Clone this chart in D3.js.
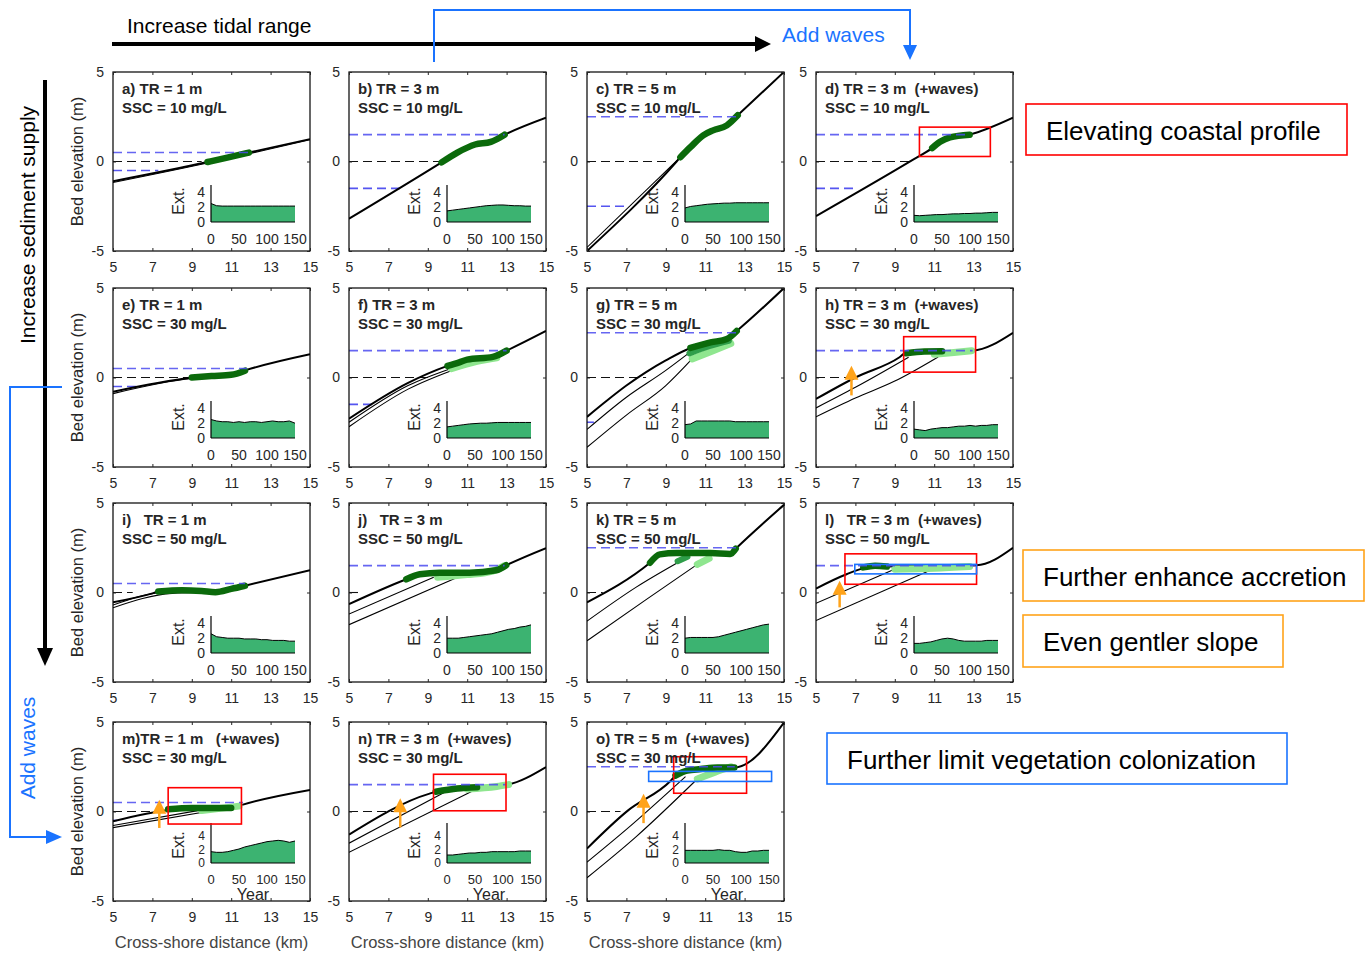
<!DOCTYPE html>
<html><head><meta charset="utf-8">
<script src="https://cdn.jsdelivr.net/npm/d3@7"></script>
<style>
body{margin:0;background:#fff;}
svg{font-family:"Liberation Sans",Arial,sans-serif;}
text{white-space:pre;}
</style></head><body>
<svg id="c" width="1365" height="953"></svg>
<script>
// ---------------- DATA ----------------
const panelLabels = ["a","b","c","d","e","f","g","h","i","j","k","l","m","n","o"];
const tidalRange  = [1,3,5,3, 1,3,5,3, 1,3,5,3, 1,3,5];
const sscValues   = [10,10,10,10, 30,30,30,30, 50,50,50,50, 30,30,30];
const withWaves   = [0,0,0,1, 0,0,0,1, 0,0,0,1, 1,1,1];
const titleGap    = [" "," "," "," ", " "," "," "," ", "   ","   "," ","   ", ""," "," "];
const xTicks = [5,7,9,11,13,15];
const yTicks = [-5,0,5];
const insetYears = [0,10,20,30,40,50,60,70,80,90,100,110,120,130,140,150];
const insetXTicks = [0,50,100,150];
const insetYTicks = [0,2,4];

// vegetation extent time series (inset), one per panel
const extent = [
 [2.5,2.2,2.15,2.15,2.15,2.15,2.15,2.15,2.15,2.15,2.15,2.15,2.15,2.15,2.15,2.15],
 [1.5,1.6,1.7,1.8,1.9,2.0,2.1,2.2,2.25,2.3,2.3,2.25,2.2,2.2,2.15,2.15],
 [1.9,2.1,2.2,2.3,2.4,2.45,2.5,2.55,2.55,2.6,2.6,2.6,2.6,2.6,2.6,2.6],
 [0.9,0.85,0.9,0.95,1.0,1.0,1.05,1.1,1.1,1.15,1.15,1.2,1.2,1.25,1.3,1.3],
 [2.5,2.3,2.2,2.2,2.1,2.2,2.1,2.2,2.2,2.1,2.2,2.3,2.2,2.2,2.3,2.0],
 [1.5,1.6,1.7,1.8,1.9,1.95,2.0,2.0,2.05,2.1,2.1,2.1,2.1,2.1,2.1,2.1],
 [1.8,1.9,2.3,2.3,2.3,2.3,2.3,2.3,2.3,2.2,2.2,2.2,2.2,2.2,2.2,2.2],
 [1.2,1.1,1.0,1.2,1.3,1.4,1.4,1.5,1.6,1.6,1.7,1.6,1.7,1.7,1.8,1.8],
 [2.6,2.2,2.1,2.0,2.0,2.0,1.9,1.9,1.9,1.8,1.8,1.7,1.7,1.7,1.6,1.6],
 [2.0,2.0,2.0,2.1,2.2,2.3,2.4,2.5,2.6,2.8,3.0,3.2,3.3,3.5,3.6,3.8],
 [2.0,2.1,2.1,2.1,2.1,2.1,2.2,2.4,2.6,2.8,3.0,3.2,3.4,3.6,3.8,3.9],
 [1.3,1.3,1.4,1.5,1.7,1.9,2.0,1.9,1.7,1.6,1.6,1.6,1.6,1.7,1.7,1.7],
 [1.7,1.6,1.6,1.7,1.9,2.1,2.4,2.6,2.8,3.0,3.2,3.3,3.4,3.3,3.1,3.3],
 [1.2,1.2,1.3,1.4,1.5,1.5,1.6,1.6,1.7,1.7,1.7,1.7,1.7,1.8,1.8,1.8],
 [1.9,1.9,1.9,1.9,1.9,1.9,2.0,1.9,1.9,1.7,1.6,1.6,1.8,1.8,1.9,1.9]
];

// bed profiles [km, m]; first = final (thick), others = earlier (thin)
const profiles = [
 [[[5,-1.1],[9.8,-0.03],[11.9,0.5],[15,1.25]], [[5,-1.17],[9.8,-0.08],[15,1.22]]],
 [[[5,-3.2],[9.7,-0.05],[10.5,0.5],[11.4,0.95],[12.2,1.1],[12.9,1.5],[15,2.45]]],
 [[[5,-5],[9.55,0],[9.74,0.24],[10.25,0.8],[10.9,1.46],[11.4,1.74],[12.1,2.02],[12.65,2.58],[15,5]], [[5,-4.8],[9.74,0.24]]],
 [[[5,-3.05],[9.8,0.02],[10.9,0.75],[11.5,1.25],[12.8,1.5],[15,2.45]]],
 [[[5,-0.8],[9,-0.02],[10,0.08],[11,0.15],[11.7,0.4],[15,1.3]], [[5,-0.9],[9,-0.06],[10.5,0.05]]],
 [[[5,-2.3],[8,-0.3],[10,0.65],[11,1.0],[12.3,1.15],[13,1.5],[15,2.6]], [[5,-2.5],[8,-0.45],[10.3,0.55]], [[5,-2.75],[8,-0.65],[10.6,0.55]]],
 [[[5,-2.2],[6,-1.3],[7,-0.45],[8,0.3],[9,0.95],[10.25,1.65],[11.27,1.96],[12.1,2.15],[12.6,2.6],[15,5]], [[5,-2.9],[7,-1.1],[9,0.4],[10.15,1.35]], [[5,-3.9],[7,-2.1],[9,-0.45],[10.3,1.0]]],
 [[[5,-1.2],[7,0.0],[9.24,1.13],[9.58,1.4],[11.4,1.46],[12.95,1.5],[15,2.5]], [[5,-1.7],[7,-0.55],[9.7,1.13]], [[5,-2.2],[7,-1.15],[9,-0.2],[11.2,1.15]]],
 [[[5,-0.55],[7,-0.05],[7.3,0.05],[8.5,0.12],[9.5,0.08],[10.2,0.02],[11,0.2],[11.7,0.38],[15,1.25]], [[5,-0.7],[7.5,0.0],[9,0.05]], [[5,-0.85],[8,-0.05],[9.5,0.0]]],
 [[[5,-0.65],[7.91,0.74],[8.59,1.02],[9.6,1.11],[11.12,1.11],[12.47,1.24],[12.98,1.52],[15,2.48]], [[5,-1.2],[9.3,0.85]], [[5,-1.8],[10.6,0.9]]],
 [[[5,-0.55],[8.2,1.66],[8.7,2.13],[9.55,2.2],[11.25,2.2],[12.27,2.15],[12.6,2.5],[15,4.9]], [[5,-1.6],[7.5,0.3],[9.75,1.76]], [[5,-2.7],[8,-0.4],[10.6,1.57]]],
 [[[5,0.22],[6.55,1.02],[7.56,1.39],[8.2,1.45],[13.15,1.52],[15,2.5]], [[5,-0.6],[9.1,1.35]], [[5,-1.57],[10.8,1.24]]],
 [[[5,-0.55],[7.9,0.09],[9,0.15],[11,0.18],[11.55,0.37],[15,1.2]], [[5,-0.78],[9.3,0.05]], [[5,-0.9],[10.3,0.1]]],
 [[[5,-1.29],[9.09,1.0],[9.6,1.15],[11.5,1.35],[12.97,1.48],[15,2.48]], [[5,-1.77],[9.9,1.1]], [[5,-2.28],[11.45,1.24]]],
 [[[5,-2.07],[7.04,0.02],[9.25,1.72],[9.49,2.0],[10.08,2.28],[10.77,2.37],[11.62,2.46],[12.48,2.46],[15,4.97]], [[5,-2.83],[7,-1.0],[10,1.95]], [[5,-3.7],[7.5,-1.4],[10.6,1.82]]]
];

// vegetated marsh surface (dark = final, mid / light = earlier)
const vegDark = [
 [[9.8,-0.03],[10.8,0.22],[11.9,0.5]],
 [[9.7,-0.05],[10.5,0.5],[11.4,0.95],[12.2,1.1],[12.9,1.5]],
 [[9.74,0.24],[10.25,0.8],[10.9,1.46],[11.4,1.74],[12.1,2.02],[12.65,2.58]],
 [[10.9,0.75],[11.3,1.1],[11.8,1.35],[12.8,1.5]],
 [[9,0.0],[10,0.08],[11,0.15],[11.7,0.38]],
 [[10,0.65],[10.6,0.85],[11,1.0],[12.3,1.15],[13,1.5]],
 [[10.25,1.65],[11.27,1.96],[12.1,2.15],[12.6,2.6]],
 [[9.58,1.35],[10.5,1.45],[11.4,1.46]],
 [[7.3,0.05],[8.5,0.12],[9.5,0.08],[10.2,0.02],[11,0.2],[11.7,0.38]],
 [[7.91,0.74],[8.59,1.02],[9.6,1.11],[11.12,1.11],[12.47,1.24],[12.98,1.52]],
 [[8.2,1.66],[8.7,2.13],[9.55,2.2],[11.25,2.2],[12.27,2.15],[12.55,2.45]],
 [[7.4,1.4],[8.0,1.5],[8.6,1.45]],
 [[7.8,0.12],[9,0.2],[11,0.2]],
 [[9.4,1.1],[10.5,1.28],[11.5,1.35]],
 [[9.49,2.0],[10.08,2.28],[10.77,2.37],[11.62,2.46],[12.48,2.46]]
];
const vegMid = [null,null,null,null,null,null,
 [[10.2,1.35],[11.2,1.75],[12.2,2.05]], null, null, null,
 [[9.6,1.75],[10.1,2.0]], null, null, null, null];
const vegLight = [null,null,null,null,null,
 [[10.2,0.5],[11.5,0.9],[12.5,1.1]],
 [[10.34,1.04],[11.4,1.5],[12.3,1.9]],
 [[11.0,1.3],[12.0,1.4],[12.9,1.5]],
 null,
 [[9.5,0.85],[11,1.0],[12.3,1.2],[12.9,1.5]],
 [[10.6,1.57],[11.2,1.9]],
 [[9.0,1.3],[11,1.35],[12.8,1.45]],
 [[9.5,0.05],[11.4,0.3]],
 [[11,1.25],[12.5,1.4],[13.1,1.5]],
 [[10.6,1.82],[11.5,2.2],[12.3,2.5]]
];

// where the water-level reference lines meet the profile (km)
const mhwEnd  = [11.9,12.9,12.6,12.8, 11.8,13.0,12.6,12.95, 11.7,12.9,12.6,13.1, 11.6,12.95,12.5];
const mlwEnd  = [7.3,7.7,7.1,7.1, 6.3,6.2,5.35,5, 5,5,5,5, 5.2,5,5];
const zeroEnd = [9.5,9.6,9.2,9.8, 9.0,9.2,8.0,6.7, 6.0,5.7,5.8,5, 7.3,7.8,6.7];

// highlight boxes [x0,x1,y0,y1] in data units
const redBoxes  = [null,null,null,[10.25,13.85,0.28,1.92], null,null,null,[9.45,13.1,0.3,2.28],
                   null,null,null,[6.47,13.15,0.46,2.16], [7.8,11.52,-0.7,1.33],[9.29,12.97,0.04,2.08],[9.4,13.1,1.02,3.06]];
const blueBoxes = [null,null,null,null, null,null,null,null, null,null,null,[6.97,13.15,1.04,1.57], null,null,[8.13,14.37,1.68,2.24]];
// orange accretion arrows [x, yFrom, yTo]
const upArrows  = [null,null,null,null, null,null,null,[6.8,-1.0,0.65], null,null,null,[6.2,-0.83,0.65], [7.35,-0.92,0.65],[7.6,-0.89,0.74],[7.87,-0.65,0.99]];

const noteTexts = ["Elevating coastal profile","Further enhance accretion","Even gentler slope","Further limit vegetation colonization"];

// ---------------- DRAW ----------------
const svg = d3.select("#c");
const rowTop = [72, 288, 503, 722];
const colLeft = [113, 349, 587, 816];
const W = 197, H = 179;
const x = d3.scaleLinear().domain([5,15]).range([0,W]);
const y = d3.scaleLinear().domain([-5,5]).range([H,0]);
const line = d3.line().x(d=>x(d[0])).y(d=>y(d[1])).curve(d3.curveMonotoneX);
const TXT = "#262626";
const ORANGE = "#ffa31a", BLUE = "#1a73ff", RED = "#ff0000";

panelLabels.forEach((lab,i)=>{
  const r = i<12 ? Math.floor(i/4) : 3;
  const c = i<12 ? i%4 : i-12;
  const g = svg.append("g").attr("transform",`translate(${colLeft[c]},${rowTop[r]})`);
  g.append("clipPath").attr("id","clip"+i).append("rect").attr("width",W).attr("height",H);
  const p = g.append("g").attr("clip-path",`url(#clip${i})`);
  const half = tidalRange[i]/2;

  if (zeroEnd[i] > 5) p.append("line").attr("x1",x(5)).attr("x2",x(zeroEnd[i])).attr("y1",y(0)).attr("y2",y(0))
     .attr("stroke","#111").attr("stroke-width",1.1).attr("stroke-dasharray","9,5");
  if (mlwEnd[i] > 5) p.append("line").attr("x1",x(5)).attr("x2",x(mlwEnd[i])).attr("y1",y(-half)).attr("y2",y(-half))
     .attr("stroke","#5555f0").attr("stroke-width",1.6).attr("stroke-dasharray","9,5");

  profiles[i].slice().reverse().forEach((pts,k,arr)=>{
    const thick = k === arr.length-1;
    p.append("path").attr("d",line(pts)).attr("fill","none").attr("stroke","#000")
      .attr("stroke-width", thick ? 2 : 1.1);
  });

  [[vegLight,"#8fe68f",7],[vegMid,"#2f9e4a",6],[vegDark,"#0b6a0b",6.5]].forEach(([arr,col,w])=>{
    if (arr[i]) p.append("path").attr("d",line(arr[i])).attr("fill","none").attr("stroke",col)
      .attr("stroke-width",w).attr("stroke-linecap","round").attr("stroke-linejoin","round");
  });

  p.append("line").attr("x1",x(5)).attr("x2",x(mhwEnd[i])).attr("y1",y(half)).attr("y2",y(half))
     .attr("stroke","#4b4bf0").attr("stroke-opacity",0.85).attr("stroke-width",1.6).attr("stroke-dasharray","9,5");

  // inset
  const bottomRow = r === 3;
  const fs = bottomRow ? 12 : 14;
  const ig = g.append("g").attr("transform",`translate(98,${bottomRow?141:150})`);
  const ix = d3.scaleLinear().domain([0,150]).range([0,84]);
  const iy = bottomRow ? d3.scaleLinear().domain([0,6]).range([0,-40]) : d3.scaleLinear().domain([0,5]).range([0,-37]);
  ig.append("path").datum(extent[i]).attr("fill","#3cb371")
    .attr("d", d3.area().x((d,k)=>ix(insetYears[k])).y0(iy(0)).y1(d=>iy(d)));
  ig.append("path").datum(extent[i]).attr("fill","none").attr("stroke","#000").attr("stroke-width",1)
    .attr("d", d3.line().x((d,k)=>ix(insetYears[k])).y(d=>iy(d)));
  ig.append("line").attr("x1",0).attr("x2",0).attr("y1",iy(0)).attr("y2",iy.range()[1]).attr("stroke","#000").attr("stroke-width",1.2);
  ig.append("line").attr("x1",0).attr("x2",ix(150)).attr("y1",0).attr("y2",0).attr("stroke","#000").attr("stroke-width",1.2);
  ig.selectAll(".iyt").data(insetYTicks).join("text").attr("x",-6).attr("y",d=>iy(d))
    .attr("text-anchor","end").attr("dominant-baseline","central").attr("font-size",fs).attr("fill",TXT).text(d=>d);
  ig.selectAll(".ixt").data(insetXTicks).join("text").attr("x",d=>ix(d)).attr("y",bottomRow?16:17)
    .attr("text-anchor","middle").attr("dominant-baseline","central").attr("font-size",bottomRow?13:14).attr("fill",TXT).text(d=>d);
  ig.append("text").attr("transform",`translate(-33,${bottomRow?-18:-21}) rotate(-90)`)
    .attr("text-anchor","middle").attr("dominant-baseline","central").attr("font-size",16).attr("fill",TXT).text("Ext.");
  if (bottomRow) ig.append("text").attr("x",42).attr("y",31).attr("text-anchor","middle")
    .attr("dominant-baseline","central").attr("font-size",16).attr("fill",TXT).text("Year");

  // highlight boxes
  [[redBoxes,RED],[blueBoxes,BLUE]].forEach(([arr,col])=>{
    const b = arr[i]; if (!b) return;
    g.append("rect").attr("x",x(b[0])).attr("y",y(b[3])).attr("width",x(b[1])-x(b[0])).attr("height",y(b[2])-y(b[3]))
      .attr("fill","none").attr("stroke",col).attr("stroke-width",1.6);
  });
  const a = upArrows[i];
  if (a) {
    const ax0 = x(a[0]), yb = y(a[1]), yt = y(a[2]);
    g.append("line").attr("x1",ax0).attr("x2",ax0).attr("y1",yb).attr("y2",yt+12).attr("stroke",ORANGE).attr("stroke-width",2.5);
    g.append("path").attr("d",`M${ax0-7},${yt+14}L${ax0},${yt}L${ax0+7},${yt+14}Z`).attr("fill",ORANGE);
  }

  // title
  const t = g.append("text").attr("x",9).attr("font-size",15).attr("font-weight","bold").attr("fill",TXT);
  t.append("tspan").attr("x",9).attr("y",22).text(`${lab})${titleGap[i]}TR = ${tidalRange[i]} m${withWaves[i] ? (lab==="m"?"   (+waves)":"  (+waves)") : ""}`);
  t.append("tspan").attr("x",9).attr("y",41).text(`SSC = ${sscValues[i]} mg/L`);

  // frame & axes
  g.append("rect").attr("width",W).attr("height",H).attr("fill","none").attr("stroke","#000").attr("stroke-width",1.2);
  const styleAxis = sel => { sel.attr("font-family",null).attr("font-size",14);
    sel.select(".domain").remove(); sel.selectAll("line").attr("stroke",TXT); sel.selectAll("text").attr("fill",TXT); };
  g.append("g").attr("transform",`translate(0,${H})`)
    .call(d3.axisBottom(x).tickValues(xTicks).tickSize(-3).tickPadding(11).tickFormat(d=>String(d))).call(styleAxis);
  g.append("g").call(d3.axisLeft(y).tickValues(yTicks).tickSize(-3).tickPadding(9).tickFormat(d=>String(d))).call(styleAxis);
  g.append("g").attr("transform",`translate(${W},0)`).call(d3.axisRight(y).tickValues(yTicks).tickSize(-3).tickFormat("")).call(styleAxis);
  g.append("g").call(d3.axisTop(x).tickValues(xTicks).tickSize(-3).tickFormat("")).call(styleAxis);

  if (c === 0) svg.append("text").attr("transform",`translate(77,${rowTop[r]+H/2}) rotate(-90)`)
    .attr("text-anchor","middle").attr("dominant-baseline","central").attr("font-size",16.5).attr("fill",TXT).text("Bed elevation (m)");
  if (r === 3) svg.append("text").attr("x",colLeft[c]+W/2).attr("y",942).attr("text-anchor","middle")
    .attr("dominant-baseline","central").attr("font-size",16.5).attr("fill","#444").text("Cross-shore distance (km)");
});

// ---------------- ANNOTATIONS ----------------
// top: increase tidal range
svg.append("line").attr("x1",112).attr("x2",757).attr("y1",44).attr("y2",44).attr("stroke","#000").attr("stroke-width",4);
svg.append("path").attr("d","M755,36L771,44L755,52Z").attr("fill","#000");
svg.append("text").attr("x",127).attr("y",25).attr("dominant-baseline","central").attr("font-size",21).attr("fill","#000").text("Increase tidal range");
svg.append("path").attr("d","M434,62V10H910V46").attr("fill","none").attr("stroke",BLUE).attr("stroke-width",2);
svg.append("path").attr("d","M903,45L917,45L910,60Z").attr("fill",BLUE);
svg.append("text").attr("x",782).attr("y",34).attr("dominant-baseline","central").attr("font-size",21).attr("fill",BLUE).text("Add waves");
// left: increase sediment supply
svg.append("line").attr("x1",45).attr("x2",45).attr("y1",80).attr("y2",650).attr("stroke","#000").attr("stroke-width",4);
svg.append("path").attr("d","M37,648L53,648L45,666Z").attr("fill","#000");
svg.append("text").attr("transform","translate(27,225) rotate(-90)").attr("text-anchor","middle").attr("dominant-baseline","central")
  .attr("font-size",21).attr("fill","#000").text("Increase sediment supply");
svg.append("path").attr("d","M62,387H10V837H47").attr("fill","none").attr("stroke",BLUE).attr("stroke-width",2);
svg.append("path").attr("d","M46,830L46,844L62,837Z").attr("fill",BLUE);
svg.append("text").attr("transform","translate(27,748) rotate(-90)").attr("text-anchor","middle").attr("dominant-baseline","central")
  .attr("font-size",21).attr("fill",BLUE).text("Add waves");

// right-side notes
const notes = [
  {b:[1026,104,321,51], col:RED},
  {b:[1023,550,341,51], col:ORANGE},
  {b:[1023,615,260,52], col:ORANGE},
  {b:[827,733,460,51], col:BLUE}
];
notes.forEach((n,k)=>{
  svg.append("rect").attr("x",n.b[0]).attr("y",n.b[1]).attr("width",n.b[2]).attr("height",n.b[3])
    .attr("fill","#fff").attr("stroke",n.col).attr("stroke-width",1.6);
  svg.append("text").attr("x",n.b[0]+20).attr("y",n.b[1]+n.b[3]/2+1).attr("dominant-baseline","central")
    .attr("font-size",26).attr("fill","#000").text(noteTexts[k]);
});
</script></body></html>
